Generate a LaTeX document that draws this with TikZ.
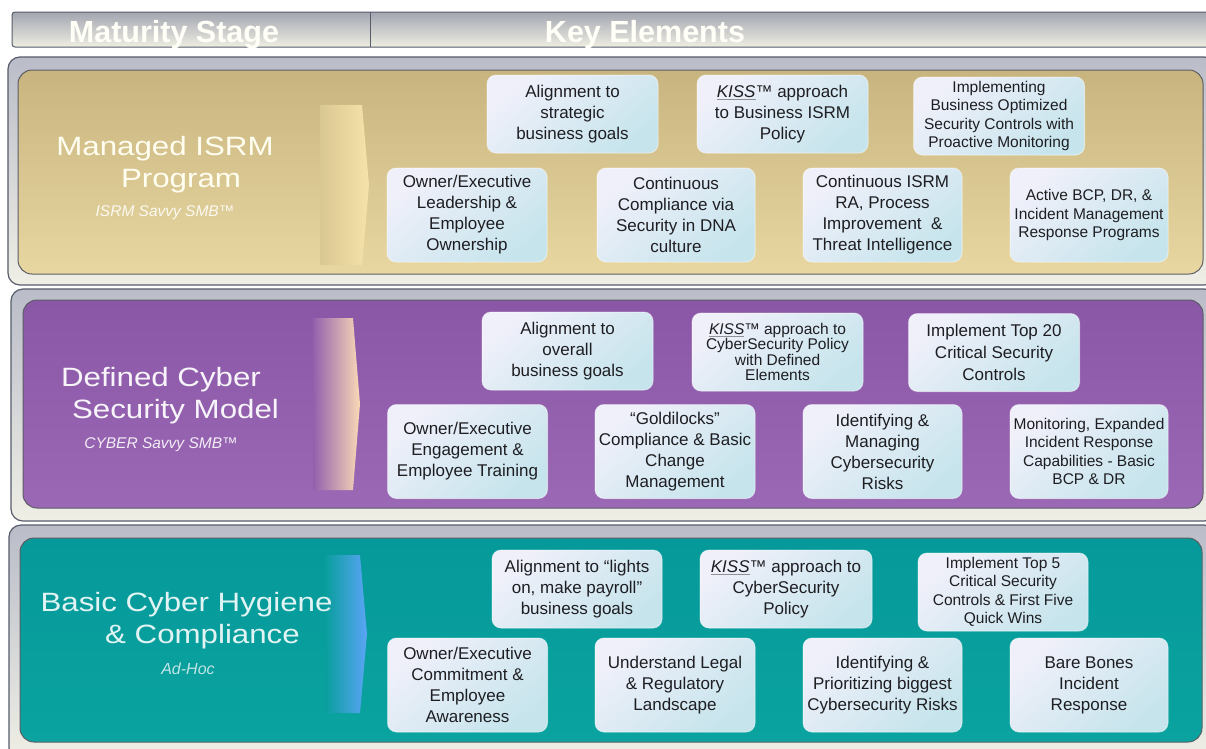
\documentclass[tikz,border=0pt]{standalone}
\usepackage{fontspec}
\setmainfont{Liberation Sans}
\newfontfamily\titlefont[FakeStretch=1.18]{Liberation Sans}

\definecolor{ink}{HTML}{1E1E22}
\definecolor{frameline}{HTML}{565C6A}
\definecolor{frametop}{HTML}{BABCC8}
\definecolor{framebot}{HTML}{EFEFE6}
\definecolor{panelline}{HTML}{5C5E66}
\definecolor{goldtop}{HTML}{C8B47F}
\definecolor{goldbot}{HTML}{E8D7A1}
\definecolor{goldlight}{HTML}{F6E3AA}
\definecolor{purptop}{HTML}{8A57A7}
\definecolor{purpbot}{HTML}{9A68B4}
\definecolor{peach}{HTML}{F9D9B6}
\definecolor{tealtop}{HTML}{06999A}
\definecolor{tealbot}{HTML}{0AA39F}
\definecolor{skyblue}{HTML}{5BA4F6}
\definecolor{elemA}{HTML}{F0F0FA}
\definecolor{elemB}{HTML}{C6E4EC}
\definecolor{headtop}{HTML}{A3A6B1}
\definecolor{headbot}{HTML}{EEEEE2}

\tikzset{
  frame/.style={draw=frameline, line width=1.2pt, rounded corners=12pt,
    top color=frametop, bottom color=framebot},
  panel/.style={draw=panelline, line width=1pt, rounded corners=14pt},
  elem/.style={rounded corners=9pt, top color=elemA, bottom color=elemB,
    shading angle=40, draw=white, draw opacity=0.45, line width=1pt,
    text=ink, align=center, inner sep=1pt,
    font=\fontsize{17}{21}\selectfont},
  dense/.style={font=\fontsize{15.5}{18.5}\selectfont},
  tight/.style={font=\fontsize{15.5}{15.5}\selectfont},
  wide/.style={minimum width=171pt, minimum height=78pt},
  tall/.style={minimum width=159pt, minimum height=94pt},
  stage/.style={anchor=base, inner sep=0pt,
    font=\titlefont\fontsize{26.5}{32}\selectfont},
  savvy/.style={anchor=center, inner sep=0pt,
    font=\itshape\fontsize{15.5}{18}\selectfont},
  headtext/.style={anchor=base, inner sep=0pt, text=white!97!yellow,
    font=\bfseries\fontsize{30.5}{32}\selectfont},
}

\begin{document}
\begin{tikzpicture}[x=1pt,y=-1pt]
\useasboundingbox (0,0) rectangle (1206,748);
\fill[white] (0,0) rectangle (1206,748);
\clip (0,0) rectangle (1206,748);

% ---------- header bar ----------
\path[draw=frameline, line width=1pt, top color=headtop, bottom color=headbot,
  rounded corners=3pt] (12,12) rectangle (1215,47);
\draw[frameline, line width=0.8pt] (370,12) -- (370,47);
\node[headtext] (hstage) at (174,42) {Maturity Stage};
\node[headtext] (hkey) at (645,42) {Key Elements};

% ---------- outer frames ----------
\path[frame] (8,57) rectangle (1216,285);
\path[frame] (11,289) rectangle (1216,521);
\path[frame] (9,525) rectangle (1216,760);

% ---------- coloured panels ----------
\path[panel, top color=goldtop, bottom color=goldbot] (18,70) rectangle (1203,274);
\path[panel, top color=purptop, bottom color=purpbot] (23,300) rectangle (1203,508);
\path[panel, top color=tealtop, bottom color=tealbot] (20,538) rectangle (1202,742);

% ---------- chevrons, fading in from the panel colour ----------
\path[left color=goldtop!45!goldbot, middle color=goldbot!60!goldlight, right color=goldlight]
  (320,105) -- (362,105) -- (369,185) -- (362,265) -- (320,265) -- cycle;
\path[left color=purptop!45!purpbot, middle color=purpbot!45!peach, right color=peach]
  (313,318) -- (353,318) -- (360,404) -- (353,490) -- (313,490) -- cycle;
\path[left color=tealtop!50!tealbot, middle color=tealbot!45!skyblue, right color=skyblue]
  (325,555) -- (360,555) -- (367,634) -- (360,713) -- (325,713) -- cycle;

% ---------- stage titles ----------
\node[stage, text=white!94!yellow] (t1a) at (165,155) {Managed ISRM};
\node[stage, text=white!94!yellow] (t1b) at (181,187) {Program};
\node[savvy, text=white!85!goldbot] (s1) at (165,213) {ISRM Savvy SMB™};

\node[stage, text=white!93!purpbot] (t2a) at (161,386) {Defined Cyber};
\node[stage, text=white!93!purpbot] (t2b) at (175.5,418) {Security Model};
\node[savvy, text=white!88!purpbot] (s2) at (161,445) {CYBER Savvy SMB™};

\node[stage, text=white!88!tealtop] (t3a) at (186.5,611) {Basic Cyber Hygiene};
\node[stage, text=white!88!tealtop] (t3b) at (202.5,643) {\& Compliance};
\node[savvy, text=white!75!tealtop, font=\itshape\fontsize{16}{18}\selectfont] (s3) at (188,669) {Ad-Hoc};

% ---------- managed ISRM program elements ----------
\node[elem, wide] (m1) at (572.5,114) {Alignment to\\strategic\\business goals};
\node[elem, wide] (m2) at (782.5,114) {\underline{\textit{KISS}}™ approach\\to Business ISRM\\Policy};
\node[elem, wide, dense] (m3) at (999,116) {Implementing\\Business Optimized\\Security Controls with\\Proactive Monitoring};
\node[elem, tall, minimum width=160pt] (m4) at (467,215) {Owner/Executive\\Leadership \&\\Employee\\Ownership};
\node[elem, tall, minimum width=158pt] (m5) at (676,215) {Continuous\\Compliance via\\Security in DNA\\culture};
\node[elem, tall] (m6) at (882.5,215) {Continuous ISRM\\RA, Process\\Improvement \ \&\\Threat Intelligence};
\node[elem, tall, dense, minimum width=158pt] (m7) at (1089,215) {Active BCP, DR, \&\\Incident Management\\Response Programs};

% ---------- defined cyber security model elements ----------
\node[elem, wide] (d1) at (567.5,351) {Alignment to\\overall\\business goals};
\node[elem, wide, tight] (d2) at (777.5,352) {\underline{\textit{KISS}}™ approach to\\CyberSecurity Policy\\with Defined\\Elements};
\node[elem, wide, font=\fontsize{17}{22}\selectfont] (d3) at (994,352.5) {Implement Top 20\\Critical Security\\Controls};
\node[elem, tall, minimum width=160pt] (d4) at (467.5,451.5) {Owner/Executive\\Engagement \&\\Employee Training};
\node[elem, tall, minimum width=160pt] (d5) at (675,451.5) {“Goldilocks”\\Compliance \& Basic\\Change\\Management};
\node[elem, tall] (d6) at (882.5,451.5) {Identifying \&\\Managing\\Cybersecurity\\Risks};
\node[elem, tall, dense, minimum width=158pt] (d7) at (1089,451.5) {Monitoring, Expanded\\Incident Response\\Capabilities - Basic\\BCP \& DR};

% ---------- basic cyber hygiene elements ----------
\node[elem, wide, minimum width=170pt] (b1) at (577,589) {Alignment to “lights\\on, make payroll”\\business goals};
\node[elem, wide, minimum width=172pt] (b2) at (786,589) {\underline{\textit{KISS}}™ approach to\\CyberSecurity\\Policy};
\node[elem, wide, dense, minimum width=170pt] (b3) at (1003,592) {Implement Top 5\\Critical Security\\Controls \& First Five\\Quick Wins};
\node[elem, tall, minimum width=160pt] (b4) at (467.5,685) {Owner/Executive\\Commitment \&\\Employee\\Awareness};
\node[elem, tall, minimum width=160pt] (b5) at (675,685) {Understand Legal\\\& Regulatory\\Landscape};
\node[elem, tall] (b6) at (882.5,685) {Identifying \&\\Prioritizing biggest\\Cybersecurity Risks};
\node[elem, tall, minimum width=158pt] (b7) at (1089,685) {Bare Bones\\Incident\\Response};
\end{tikzpicture}
\end{document}
